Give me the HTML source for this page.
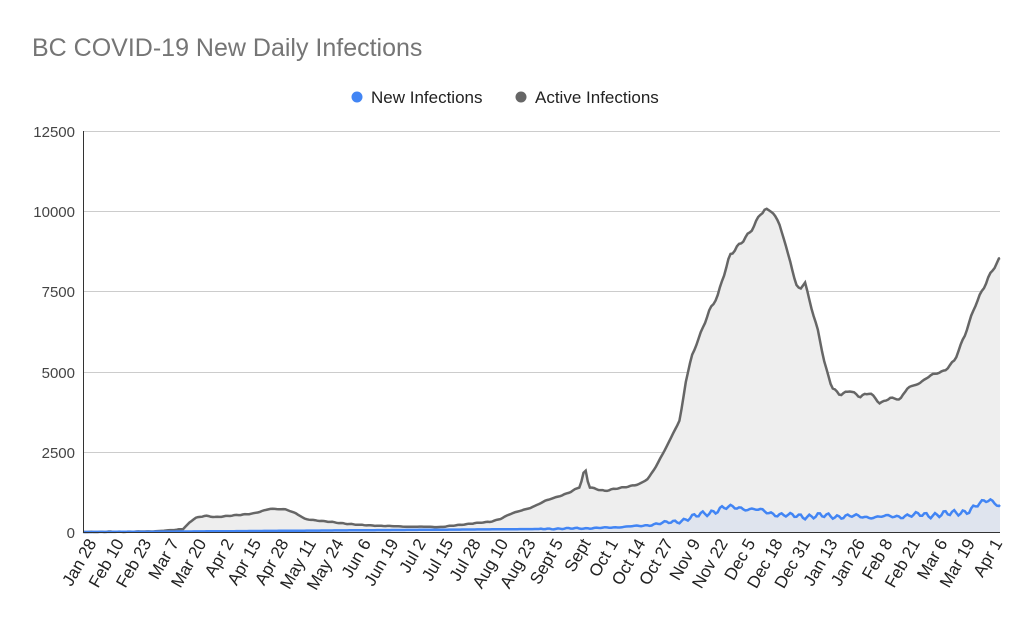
<!DOCTYPE html>
<html><head><meta charset="utf-8"><style>
body{margin:0;background:#fff;}
svg{display:block;font-family:"Liberation Sans",Arial,sans-serif;}
</style></head><body>
<svg id="s" width="1024" height="638" xmlns="http://www.w3.org/2000/svg">
<rect width="1024" height="638" fill="#fff"/>
<text x="32" y="56" font-size="25" fill="#757575">BC COVID-19 New Daily Infections</text>
<circle cx="357" cy="97" r="5.5" fill="#4285f4"/>
<text x="371" y="103" font-size="17" fill="#222">New Infections</text>
<circle cx="521" cy="97" r="5.5" fill="#666"/>
<text x="535" y="103" font-size="17" fill="#222">Active Infections</text>
<g stroke="#ccc" stroke-width="1">
<line x1="83" y1="131.5" x2="1000" y2="131.5"/>
<line x1="83" y1="211.5" x2="1000" y2="211.5"/>
<line x1="83" y1="291.5" x2="1000" y2="291.5"/>
<line x1="83" y1="372.5" x2="1000" y2="372.5"/>
<line x1="83" y1="452.5" x2="1000" y2="452.5"/>
</g>
<g font-size="15" fill="#444" text-anchor="end">
<text x="75" y="137">12500</text>
<text x="75" y="217">10000</text>
<text x="75" y="297">7500</text>
<text x="75" y="378">5000</text>
<text x="75" y="458">2500</text>
<text x="75" y="538">0</text>
</g>
<g id="data"></g>
<line x1="83.5" y1="131" x2="83.5" y2="532" stroke="#333"/>
<line x1="83" y1="532.5" x2="1000" y2="532.5" stroke="#333"/>
<g id="xl" font-size="17" fill="#222" text-anchor="end"></g>
</svg>
<script>
var labels=["Jan 28","Feb 10","Feb 23","Mar 7","Mar 20","Apr 2","Apr 15","Apr 28","May 11","May 24","Jun 6","Jun 19","Jul 2","Jul 15","Jul 28","Aug 10","Aug 23","Sept 5","Sept","Oct 1","Oct 14","Oct 27","Nov 9","Nov 22","Dec 5","Dec 18","Dec 31","Jan 13","Jan 26","Feb 8","Feb 21","Mar 6","Mar 19","Apr 1"];
var xl=document.getElementById('xl'),h='';
labels.forEach(function(l,i){var x=97+27.45*i,y=543;h+='<text transform="translate('+x+','+y+') rotate(-60)">'+l+'</text>';});
xl.innerHTML=h;
var A=[[83,532],[150,531.5],[175,530],[183,529],[190,522],[195,518],[205,516],[215,517],[240,515],[255,513],[270,509],[285,509],[295,513],[305,519],[330,522],[360,525],[400,526.5],[440,527],[460,525],[475,523],[490,522],[500,519],[510,514],[520,511],[530,508],[545,501],[560,496],[570,492],[580,487],[585,468],[589,487],[605,491],[620,488],[640,484],[648,479],[655,468],[662,455],[670,440],[680,420],[686,380],[692,355],[700,335],[710,310],[718,295],[722,280],[730,255],[740,245],[750,232],[760,214],[765,210],[772,212],[780,225],[790,260],[796,285],[800,290],[805,283],[812,310],[818,330],[825,365],[832,388],[840,395],[850,390],[860,397],[870,393],[880,403],[890,398],[900,400],[908,387],[920,383],[932,375],[945,370],[955,360],[965,335],[975,305],[985,285],[993,270],[1000,258]];
var N=[[83,532],[185,531.5],[540,529],[600,528],[640,526],[680,521],[700,515],[720,509],[740,507],[760,511],[790,516],[830,516],[880,517],[920,515],[950,514],[970,510],[990,499],[995,502],[1000,505]];
function interp(P,x){for(var i=1;i<P.length;i++){if(x<=P[i][0]){var a=P[i-1],b=P[i];var t=(x-a[0])/(b[0]-a[0]||1);return a[1]+t*(b[1]-a[1]);}}return P[P.length-1][1];}
function noise(x,s){return Math.sin(x*2.3+s)*0.5+Math.sin(x*5.7+s*2)*0.4+Math.sin(x*11.1)*0.3;}
var pa=[],pn=[];
for(var x=83;x<=1000;x+=2.13){
 var ya=interp(A,x);var amp=(532-ya)*0.006+0.3;ya+=noise(x,1)*amp;
 var yn=interp(N,x);var an=(532-yn)*0.18;if(x>540)yn+=noise(x,3)*Math.min(an,4);
 if(ya>532)ya=532;if(yn>532)yn=532;
 pa.push(x.toFixed(1)+','+ya.toFixed(1));pn.push(x.toFixed(1)+','+yn.toFixed(1));
}
pa.push('1000,'+interp(A,1000));pn.push('1000,'+interp(N,1000));
var d='';
d+='<polygon points="83,532 '+pa.join(' ')+' 1000,532" fill="#eeeeee"/>';
d+='<polygon points="83,532 '+pn.join(' ')+' 1000,532" fill="#dfe4ee"/>';
d+='<polyline points="'+pa.join(' ')+'" fill="none" stroke="#666" stroke-width="2.5"/>';
d+='<polyline points="'+pn.join(' ')+'" fill="none" stroke="#4285f4" stroke-width="2.5"/>';
document.getElementById('data').innerHTML=d;
</script>
</body></html>
